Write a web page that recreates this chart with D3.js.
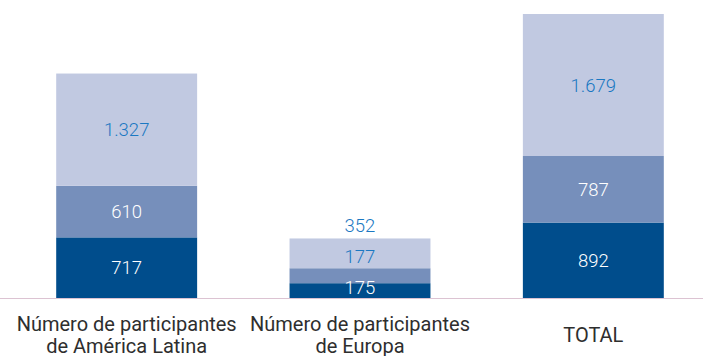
<!DOCTYPE html>
<html>
<head>
<meta charset="utf-8">
<script src="https://cdn.jsdelivr.net/npm/d3@7"></script>
<style>
  html, body { margin: 0; padding: 0; background: #fff; }
  svg { display: block; }
  text { font-family: Roboto, "Noto Sans", sans-serif; }
</style>
</head>
<body>
<svg id="chart" width="703" height="356"></svg>
<script>
// Categories (each label split into its display lines)
const categories = ["america", "europa", "total"];
const categoryLines = [
  ["Número de participantes", "de América Latina"],
  ["Número de participantes", "de Europa"],
  ["TOTAL"]
];

// Stacked series, bottom to top
const seriesKeys = ["base", "medio", "suma"];
const baseValues  = [717, 175, 892];
const medioValues = [610, 177, 787];
const sumaValues  = [1327, 352, 1679];

const colors = { base: "#004d8c", medio: "#768fbb", suma: "#c1c9e1" };
const labelColors = { base: "#ffffff", medio: "#ffffff", suma: "#1a78c2" };

const rows = categories.map((c, i) => ({
  cat: c,
  base: baseValues[i],
  medio: medioValues[i],
  suma: sumaValues[i]
}));

const W = 703, H = 356;
const svg = d3.select("#chart");

const es = d3.formatLocale({ decimal: ",", thousands: ".", grouping: [3], currency: ["", "€"] });
const fmt = es.format(",d");

const stacked = d3.stack().keys(seriesKeys)(rows);
const maxTotal = d3.max(stacked[stacked.length - 1], d => d[1]);

const x = d3.scaleBand()
  .domain(categories)
  .range([10, 710])
  .paddingInner(0.396)
  .paddingOuter(0.198);

const y = d3.scaleLinear()
  .domain([0, maxTotal])
  .range([298, 14]);

// Bars
const layers = svg.append("g").selectAll("g")
  .data(stacked)
  .join("g")
  .attr("fill", d => colors[d.key]);

layers.selectAll("rect")
  .data(d => d.map(p => ({ key: d.key, p })))
  .join("rect")
  .attr("x", d => x(d.p.data.cat))
  .attr("width", x.bandwidth())
  .attr("y", d => y(d.p[1]))
  .attr("height", d => y(d.p[0]) - y(d.p[1]));

// Baseline
svg.append("line")
  .attr("x1", 0).attr("x2", W)
  .attr("y1", y(0) + 0.5).attr("y2", y(0) + 0.5)
  .attr("stroke", "#dcc3d2")
  .attr("stroke-width", 1);

// Value labels: centred in each segment, pushed upward when segments are too thin
const minGap = 31;
const labelData = [];
rows.forEach((r, i) => {
  let prev = y(0) - 11 + minGap;
  stacked.forEach(layer => {
    const p = layer[i];
    const centre = (y(p[0]) + y(p[1])) / 2;
    const cy = Math.min(centre, prev - minGap);
    prev = cy;
    // colour follows the segment the label sits on
    let bg = null;
    stacked.forEach(l2 => {
      const q = l2[i];
      if (cy <= y(q[0]) && cy >= y(q[1])) bg = l2.key;
    });
    labelData.push({
      cat: r.cat,
      value: r[layer.key],
      cy,
      color: bg ? labelColors[bg] : labelColors.suma
    });
  });
});

svg.append("g").selectAll("text")
  .data(labelData)
  .join("text")
  .attr("x", d => x(d.cat) + x.bandwidth() / 2)
  .attr("y", d => d.cy)
  .attr("dy", "0.36em")
  .attr("text-anchor", "middle")
  .attr("font-size", "18.5px")
  .attr("font-weight", 300)
  .attr("fill", d => d.color)
  .text(d => fmt(d.value));

// Category labels
const lineH = 22, labelMid = 334.5;
const catG = svg.append("g").selectAll("text")
  .data(categories.map((c, i) => ({ cat: c, lines: categoryLines[i] })))
  .join("text")
  .attr("text-anchor", "middle")
  .attr("font-size", "20px")
  .attr("fill", "#2e2e2e");

catG.selectAll("tspan")
  .data(d => d.lines.map((t, j) => ({ t, j, n: d.lines.length, cat: d.cat })))
  .join("tspan")
  .attr("x", d => x(d.cat) + x.bandwidth() / 2)
  .attr("y", d => labelMid - (d.n - 1) * lineH / 2 + d.j * lineH)
  .attr("dy", "0.36em")
  .text(d => d.t);
</script>
</body>
</html>
